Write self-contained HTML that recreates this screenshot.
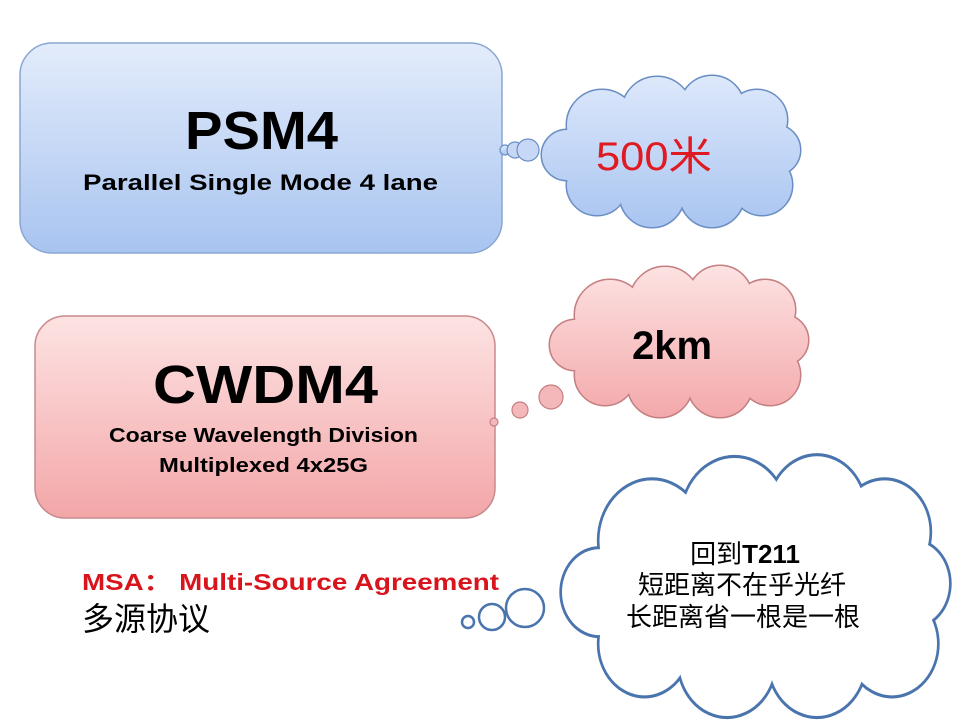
<!DOCTYPE html>
<html><head><meta charset="utf-8"><style>
html,body{margin:0;padding:0;background:#fff}
svg{display:block}
text{font-family:"Liberation Sans","Noto Sans CJK SC",sans-serif}
</style></head><body>
<svg width="960" height="720" viewBox="0 0 960 720" xmlns="http://www.w3.org/2000/svg">
<defs>
<linearGradient id="gb" x1="0" y1="0" x2="0" y2="1"><stop offset="0" stop-color="#e3ecfb"/><stop offset="1" stop-color="#a8c4f0"/></linearGradient>
<linearGradient id="gp" x1="0" y1="0" x2="0" y2="1"><stop offset="0" stop-color="#fde3e3"/><stop offset="1" stop-color="#f3a6a8"/></linearGradient>
<linearGradient id="cb" gradientUnits="userSpaceOnUse" x1="0" y1="-75" x2="0" y2="75"><stop offset="0" stop-color="#dde8fb"/><stop offset="1" stop-color="#a9c5f1"/></linearGradient>
<linearGradient id="cp" gradientUnits="userSpaceOnUse" x1="0" y1="-75" x2="0" y2="75"><stop offset="0" stop-color="#fde2e2"/><stop offset="1" stop-color="#f3a9ab"/></linearGradient>
<g id="lobes">
<circle cx="-68" cy="-27" r="35"/><circle cx="-13" cy="-40" r="35"/><circle cx="42" cy="-44" r="32"/><circle cx="87" cy="-32" r="30"/><circle cx="105" cy="-2" r="25"/><circle cx="92" cy="33" r="30"/><circle cx="42" cy="43" r="32"/><circle cx="-18" cy="43" r="32"/><circle cx="-73" cy="33" r="30"/><circle cx="-103" cy="3" r="25"/><ellipse cx="0" cy="0" rx="95" ry="45"/>
</g>
</defs>

<rect x="20" y="43" width="482" height="210" rx="32" fill="url(#gb)" stroke="#8aa6d2" stroke-width="1.5"/>
<text x="185" y="149" font-size="54" font-weight="bold" fill="#000" textLength="153" lengthAdjust="spacingAndGlyphs">PSM4</text>
<text x="83" y="190" font-size="22" font-weight="bold" fill="#000" textLength="355" lengthAdjust="spacingAndGlyphs">Parallel Single Mode 4 lane</text>

<rect x="35" y="316" width="460" height="202" rx="30" fill="url(#gp)" stroke="#c98a8c" stroke-width="1.5"/>
<text x="153" y="403" font-size="54" font-weight="bold" fill="#000" textLength="225" lengthAdjust="spacingAndGlyphs">CWDM4</text>
<text x="109" y="442" font-size="20" font-weight="bold" fill="#000" textLength="309" lengthAdjust="spacingAndGlyphs">Coarse Wavelength Division</text>
<text x="159" y="472" font-size="20" font-weight="bold" fill="#000" textLength="209" lengthAdjust="spacingAndGlyphs">Multiplexed 4x25G</text>

<text x="82" y="590" font-size="23" font-weight="bold" fill="#d8141c" textLength="417" lengthAdjust="spacingAndGlyphs">MSA： Multi-Source Agreement</text>
<text x="82" y="630" font-size="32" fill="#000">多源协议</text>

<!-- cloud 1 -->
<g transform="translate(670,152)">
<use href="#lobes" fill="url(#cb)" stroke="#6b8fc4" stroke-width="3"/>
<use href="#lobes" fill="url(#cb)" stroke="none"/>
</g>
<circle cx="505" cy="150" r="5" fill="url(#gb)" stroke="#6b8fc4" stroke-width="1.2"/>
<circle cx="515" cy="150" r="8" fill="#c6d8f5" stroke="#6b8fc4" stroke-width="1.2"/>
<circle cx="528" cy="150" r="11" fill="#c6d8f5" stroke="#6b8fc4" stroke-width="1.2"/>
<text x="596" y="170" font-size="40" fill="#e01a22" textLength="116" lengthAdjust="spacingAndGlyphs">500米</text>

<!-- cloud 2 -->
<g transform="translate(678,342)">
<use href="#lobes" fill="url(#cp)" stroke="#c47f82" stroke-width="3"/>
<use href="#lobes" fill="url(#cp)" stroke="none"/>
</g>
<circle cx="494" cy="422" r="4" fill="#f5b8ba" stroke="#c47f82" stroke-width="1.2"/>
<circle cx="520" cy="410" r="8" fill="#f5b8ba" stroke="#c47f82" stroke-width="1.2"/>
<circle cx="551" cy="397" r="12" fill="#f5b8ba" stroke="#c47f82" stroke-width="1.2"/>
<text x="672" y="359" font-size="40" font-weight="bold" fill="#000" text-anchor="middle">2km</text>

<!-- cloud 3 -->
<g transform="translate(754,587) scale(1.5,1.72)">
<use href="#lobes" fill="#fff" stroke="#4a74ad" stroke-width="3.6"/>
<use href="#lobes" fill="#fff" stroke="none"/>
</g>
<circle cx="468" cy="622" r="6" fill="#fff" stroke="#4a74ad" stroke-width="2.5"/>
<circle cx="492" cy="617" r="13" fill="#fff" stroke="#4a74ad" stroke-width="2.5"/>
<circle cx="525" cy="608" r="19" fill="#fff" stroke="#4a74ad" stroke-width="2.5"/>
<text x="745" y="563" font-size="26" fill="#000" text-anchor="middle">回到<tspan font-weight="bold">T211</tspan></text>
<text x="742" y="594" font-size="26" fill="#000" text-anchor="middle">短距离不在乎光纤</text>
<text x="743" y="626" font-size="26" fill="#000" text-anchor="middle">长距离省一根是一根</text>
</svg>
</body></html>
